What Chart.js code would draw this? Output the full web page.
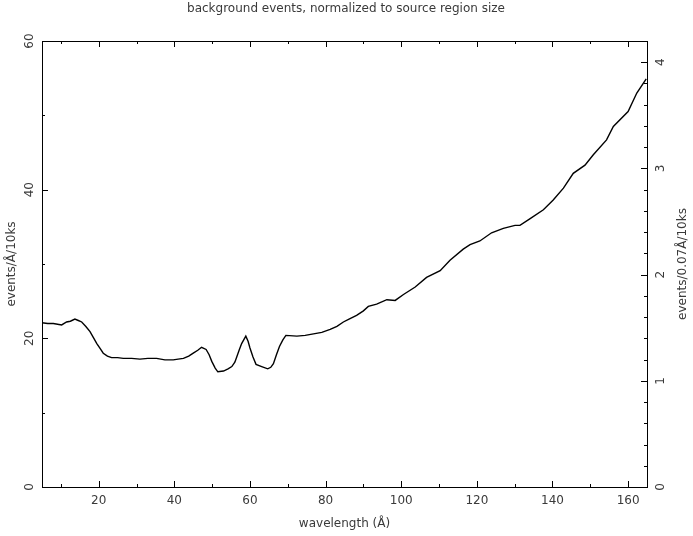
<!DOCTYPE html>
<html>
<head>
<meta charset="utf-8">
<title>background events</title>
<script src="https://cdn.jsdelivr.net/npm/chart.js@4/dist/chart.umd.min.js"></script>
<style>
  body { margin: 0; background: #fff; }
  canvas { display: block; }
</style>
</head>
<body>
<canvas id="myChart" width="693" height="536"></canvas>
<script>
// wavelength (A) and background rate (events/A/10ks)
const wavelength = [5.0, 6.5, 8.0, 10.2, 11.5, 12.5, 13.7, 14.6, 15.5, 16.6, 17.7, 18.6, 19.5, 20.4, 21.2, 22.3, 23.4, 25.0, 26.5, 28.7,
  30.9, 33.0, 35.3, 37.5, 39.7, 41.0, 42.4, 43.8, 45.0, 46.2, 47.2, 48.4, 49.2, 49.9, 50.8, 51.5, 53.0, 54.2, 55.2, 56.0,
  56.5, 57.2, 57.8, 58.9, 59.5, 60.0, 60.8, 61.6, 63.1, 64.7, 65.5, 66.2, 67.0, 67.8, 68.7, 69.5, 72.4, 74.6, 76.8, 79.0,
  81.2, 83.0, 84.7, 86.2, 88.2, 90.0, 91.3, 93.5, 96.2, 98.4, 100.6, 103.7, 106.7, 110.3, 112.9, 116.4, 118.2, 120.8, 123.9, 127.0,
  130.1, 131.4, 134.1, 137.6, 140.2, 142.9, 145.5, 148.6, 150.8, 154.3, 156.1, 160.0, 162.3, 164.8];
const events = [22.1, 22.0, 22.0, 21.8, 22.2, 22.3, 22.6, 22.4, 22.2, 21.6, 20.9, 20.1, 19.3, 18.6, 18.0, 17.6, 17.4, 17.4, 17.3, 17.3,
  17.2, 17.3, 17.3, 17.1, 17.1, 17.2, 17.3, 17.6, 18.0, 18.4, 18.8, 18.5, 17.8, 16.9, 16.0, 15.5, 15.6, 15.9, 16.2, 16.8,
  17.5, 18.5, 19.3, 20.3, 19.6, 18.7, 17.5, 16.5, 16.2, 15.9, 16.1, 16.6, 17.8, 18.9, 19.8, 20.4, 20.3, 20.4, 20.6, 20.8,
  21.2, 21.6, 22.2, 22.6, 23.1, 23.7, 24.3, 24.6, 25.2, 25.1, 25.9, 26.9, 28.2, 29.1, 30.5, 32.0, 32.6, 33.1, 34.2, 34.8,
  35.2, 35.2, 36.1, 37.3, 38.6, 40.2, 42.2, 43.3, 44.7, 46.7, 48.5, 50.5, 53.0, 54.9];

// axis ticks
const xTicks = [10, 20, 30, 40, 50, 60, 70, 80, 90, 100, 110, 120, 130, 140, 150, 160];
const xLabelTicks = [20, 40, 60, 80, 100, 120, 140, 160];
const yTicks = [0, 10, 20, 30, 40, 50, 60];
const yLabelTicks = [0, 20, 40, 60];
const y2Ticks = [0, 0.2, 0.4, 0.6, 0.8, 1, 1.2, 1.4, 1.6, 1.8, 2, 2.2, 2.4, 2.6, 2.8, 3, 3.2, 3.4, 3.6, 3.8, 4];
const y2LabelTicks = [0, 1, 2, 3, 4];

const FONT = "'DejaVu Sans', sans-serif";
const TEXT = "#3a3a3a";

function near(list, v) {
  return list.some(function(t) { return Math.abs(t - v) < 1e-6; });
}

// frame, inward ticks, rotated y labels and titles
const framePlugin = {
  id: "frame",
  afterDraw: function(chart) {
    const ctx = chart.ctx;
    const a = chart.chartArea;
    const sx = chart.scales.x, sy = chart.scales.y, sy2 = chart.scales.y2;
    ctx.save();
    ctx.strokeStyle = "#000";
    ctx.lineWidth = 1;
    ctx.strokeRect(Math.round(a.left) + 0.5, Math.round(a.top) + 0.5,
      Math.round(a.right - a.left), Math.round(a.bottom - a.top));

    ctx.beginPath();
    xTicks.forEach(function(v) {
      const px = Math.round(sx.getPixelForValue(v)) + 0.5;
      const len = near(xLabelTicks, v) ? 6 : 3;
      ctx.moveTo(px, a.bottom); ctx.lineTo(px, a.bottom - len);
      ctx.moveTo(px, a.top); ctx.lineTo(px, a.top + len);
    });
    yTicks.forEach(function(v) {
      const py = Math.round(sy.getPixelForValue(v)) + 0.5;
      const len = near(yLabelTicks, v) ? 6 : 3;
      ctx.moveTo(a.left, py); ctx.lineTo(a.left + len, py);
    });
    y2Ticks.forEach(function(v) {
      const py = Math.round(sy2.getPixelForValue(v)) + 0.5;
      const len = near(y2LabelTicks, v) ? 6 : 3;
      ctx.moveTo(a.right, py); ctx.lineTo(a.right - len, py);
    });
    ctx.stroke();

    ctx.fillStyle = TEXT;
    ctx.font = "12px " + FONT;
    ctx.textAlign = "center";
    ctx.textBaseline = "middle";
    yLabelTicks.forEach(function(v) {
      ctx.save();
      ctx.translate(30, sy.getPixelForValue(v));
      ctx.rotate(-Math.PI / 2);
      ctx.fillText(String(v), 0, 0);
      ctx.restore();
    });
    y2LabelTicks.forEach(function(v) {
      ctx.save();
      ctx.translate(661, sy2.getPixelForValue(v));
      ctx.rotate(-Math.PI / 2);
      ctx.fillText(String(v), 0, 0);
      ctx.restore();
    });

    const midY = (a.top + a.bottom) / 2;
    ctx.save();
    ctx.translate(12, midY);
    ctx.rotate(-Math.PI / 2);
    ctx.fillText("events/Å/10ks", 0, 0);
    ctx.restore();
    ctx.save();
    ctx.translate(683, midY);
    ctx.rotate(-Math.PI / 2);
    ctx.fillText("events/0.07Å/10ks", 0, 0);
    ctx.restore();

    ctx.fillText("background events, normalized to source region size", 346, 9);
    ctx.restore();
  }
};

new Chart("myChart", {
  type: "line",
  data: {
    datasets: [{
      data: wavelength.map(function(w, i) { return { x: w, y: events[i] }; }),
      borderColor: "#000",
      borderWidth: 1.4,
      pointRadius: 0,
      tension: 0,
      fill: false
    }]
  },
  options: {
    responsive: false,
    animation: false,
    devicePixelRatio: 1,
    layout: { padding: { top: 41, left: 0, right: 0, bottom: 0 } },
    plugins: {
      legend: { display: false },
      tooltip: { enabled: false },
      title: { display: false }
    },
    scales: {
      x: {
        type: "linear",
        position: "bottom",
        min: 5,
        max: 165,
        afterBuildTicks: function(s) { s.ticks = xTicks.map(function(v) { return { value: v }; }); },
        afterFit: function(s) { s.height = 49; },
        grid: { display: false, drawTicks: false },
        border: { display: false },
        ticks: {
          autoSkip: false,
          maxRotation: 0,
          padding: 7,
          color: TEXT,
          font: { family: FONT, size: 12 },
          callback: function(v) { return near(xLabelTicks, v) ? String(v) : ""; }
        },
        title: {
          display: true,
          text: "wavelength (Å)",
          color: TEXT,
          font: { family: FONT, size: 12 },
          padding: { top: 0, bottom: 5 }
        }
      },
      y: {
        type: "linear",
        position: "left",
        min: 0,
        max: 60,
        afterBuildTicks: function(s) { s.ticks = yTicks.map(function(v) { return { value: v }; }); },
        afterFit: function(s) { s.width = 42; },
        grid: { display: false, drawTicks: false },
        border: { display: false },
        ticks: { display: false }
      },
      y2: {
        type: "linear",
        position: "right",
        min: 0,
        max: 4.2,
        afterBuildTicks: function(s) { s.ticks = y2Ticks.map(function(v) { return { value: v }; }); },
        afterFit: function(s) { s.width = 46; },
        grid: { display: false, drawTicks: false },
        border: { display: false },
        ticks: { display: false }
      }
    }
  },
  plugins: [framePlugin]
});
</script>
</body>
</html>
